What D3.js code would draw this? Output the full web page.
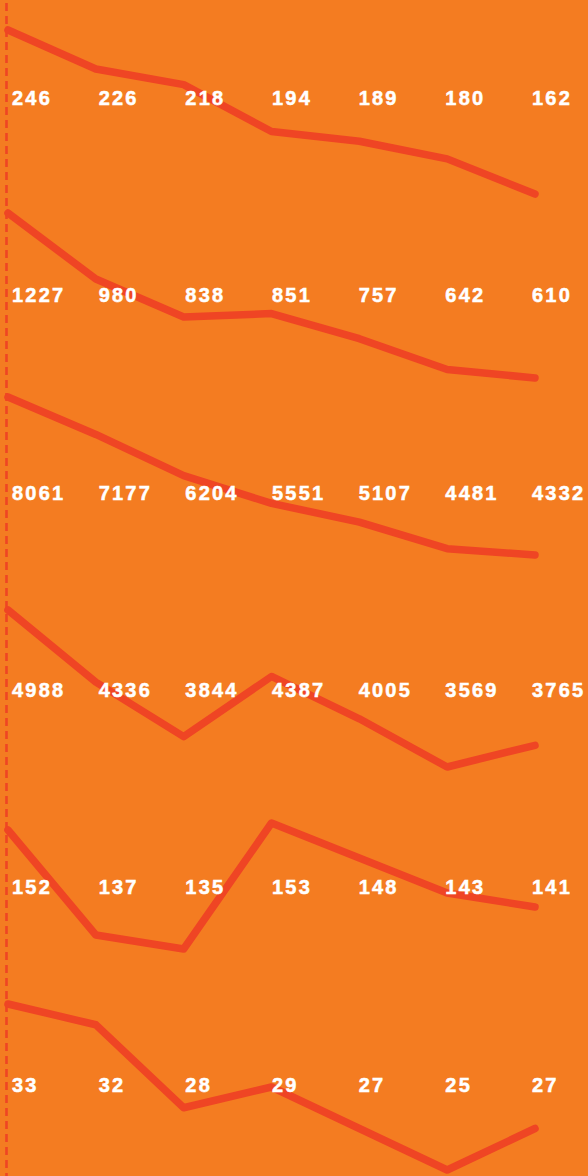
<!DOCTYPE html>
<html>
<head>
<meta charset="utf-8">
<script src="https://cdn.jsdelivr.net/npm/d3@7"></script>
<style>
  html, body { margin: 0; padding: 0; background: #F47C21; }
  svg { display: block; }
</style>
</head>
<body>
<svg width="588" height="1176"></svg>
<script>
// one row of numbers per small chart, 7 periods each
const periods = [0, 1, 2, 3, 4, 5, 6];
const row1 = [246, 226, 218, 194, 189, 180, 162];
const row2 = [1227, 980, 838, 851, 757, 642, 610];
const row3 = [8061, 7177, 6204, 5551, 5107, 4481, 4332];
const row4 = [4988, 4336, 3844, 4387, 4005, 3569, 3765];
const row5 = [152, 137, 135, 153, 148, 143, 141];
const row6 = [33, 32, 28, 29, 27, 25, 27];
const rows = [row1, row2, row3, row4, row5, row6];

const svg = d3.select("svg");
const W = 588, H = 1176;
const bg = "#F47C21";
const lineColor = "#EF4524";

// vertical extents of each mini chart (top = max value, bottom = min value)
const bandTop = [30, 213, 397, 610, 823, 1004];
const bandBottom = [194, 378, 555, 767, 949, 1170];
const labelY = [105, 302, 500, 697, 894, 1092];

svg.append("rect").attr("width", W).attr("height", H).attr("fill", bg);

const x = d3.scaleLinear().domain([0, 6]).range([8, 535]);
const xLabel = d3.scaleLinear().domain([0, 6]).range([12, 532]);

// dashed baseline on the left
svg.append("line")
  .attr("x1", 6.5).attr("x2", 6.5)
  .attr("y1", 3).attr("y2", H)
  .attr("stroke", lineColor)
  .attr("stroke-width", 2.6)
  .attr("stroke-dasharray", "8,5");

rows.forEach(function(vals, r) {
  const y = d3.scaleLinear()
    .domain([d3.min(vals), d3.max(vals)])
    .range([bandBottom[r], bandTop[r]]);

  const line = d3.line()
    .x((d, i) => x(periods[i]))
    .y(d => y(d));

  svg.append("path")
    .datum(vals)
    .attr("d", line)
    .attr("fill", "none")
    .attr("stroke", lineColor)
    .attr("stroke-width", 7.5)
    .attr("stroke-linejoin", "round")
    .attr("stroke-linecap", "round");
});

// value labels, drawn on top of the lines
rows.forEach(function(vals, r) {
  svg.append("g")
    .selectAll("text")
    .data(vals)
    .enter()
    .append("text")
    .attr("x", (d, i) => xLabel(periods[i]))
    .attr("y", labelY[r])
    .attr("fill", "#fff")
    .attr("stroke", "#fff")
    .attr("stroke-width", 0.5)
    .attr("font-family", "'Liberation Sans', Arial, sans-serif")
    .attr("font-weight", "bold")
    .attr("font-size", 20)
    .attr("letter-spacing", 2.2)
    .text(d => d);
});
</script>
</body>
</html>
